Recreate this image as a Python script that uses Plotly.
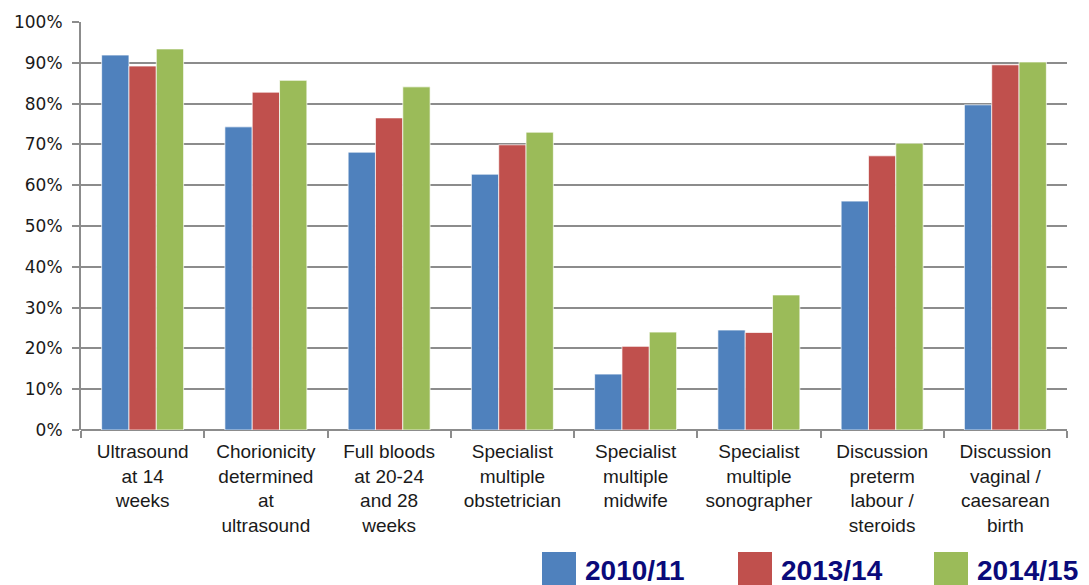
import plotly.graph_objects as go

categories = [
    "Ultrasound<br>at 14<br>weeks",
    "Chorionicity<br>determined<br>at<br>ultrasound",
    "Full bloods<br>at 20-24<br>and 28<br>weeks",
    "Specialist<br>multiple<br>obstetrician",
    "Specialist<br>multiple<br>midwife",
    "Specialist<br>multiple<br>sonographer",
    "Discussion<br>preterm<br>labour /<br>steroids",
    "Discussion<br>vaginal /<br>caesarean<br>birth",
]
series_names = ["2010/11", "2013/14", "2014/15"]
vals_2010 = [0.919, 0.743, 0.681, 0.627, 0.137, 0.245, 0.561, 0.797]
vals_2013 = [0.892, 0.828, 0.765, 0.699, 0.205, 0.239, 0.672, 0.895]
vals_2014 = [0.934, 0.857, 0.841, 0.730, 0.240, 0.331, 0.703, 0.902]
colors = ["#4F81BD", "#C0504D", "#9BBB59"]
y_ticks = [i / 10 for i in range(11)]

fig = go.Figure()
for name, vals, col in zip(series_names, [vals_2010, vals_2013, vals_2014], colors):
    fig.add_trace(go.Bar(
        x=categories, y=vals, name=name,
        marker=dict(color=col, line=dict(color="rgba(255,255,255,0.7)", width=1)),
    ))

# the page body has an 8px margin, so the figure is drawn 8px smaller
# legend drawn by hand to get the large swatches (page x of each swatch)
legend_x = [542, 738, 934]
for lx, name, col in zip(legend_x, series_names, colors):
    fig.add_shape(type="rect", xref="paper", yref="paper",
                  x0=(lx - 81) / 986, x1=(lx + 34 - 81) / 986,
                  y0=-160 / 408, y1=-122 / 408,
                  fillcolor=col, line=dict(width=0))
    fig.add_annotation(xref="paper", yref="paper",
                       x=(lx + 41 - 81) / 986, y=-140 / 408,
                       xanchor="left", yanchor="middle", showarrow=False,
                       text="<b>" + name + "</b>",
                       font=dict(family="Liberation Sans, Arial", size=28, color="#0A0A7A"))

fig.update_layout(
    width=1081, height=577,
    margin=dict(l=73, r=22, t=14, b=155),
    barmode="group", bargap=0.335, bargroupgap=0,
    showlegend=False,
    plot_bgcolor="white", paper_bgcolor="white",
)
fig.update_xaxes(
    automargin=False,
    tickson="boundaries", ticks="outside", ticklen=7, tickcolor="#8C8C8C", tickwidth=2,
    ticklabelstandoff=8,
    showline=False, showgrid=False,
    tickfont=dict(family="Liberation Sans, Arial", size=19, color="#1A1A1A"),
)
fig.update_yaxes(
    automargin=False,
    range=[0, 1], tickvals=y_ticks, tickformat=".0%",
    showgrid=True, gridcolor="#8C8C8C", gridwidth=2,
    showline=True, linecolor="#8C8C8C", linewidth=2,
    ticks="outside", ticklen=7, tickcolor="#8C8C8C", tickwidth=2,
    ticklabelstandoff=6,
    zeroline=True, zerolinecolor="#8C8C8C", zerolinewidth=2,
    tickfont=dict(family="DejaVu Sans, Verdana", size=17, color="#1A1A1A"),
)

fig.write_html("out.html")
